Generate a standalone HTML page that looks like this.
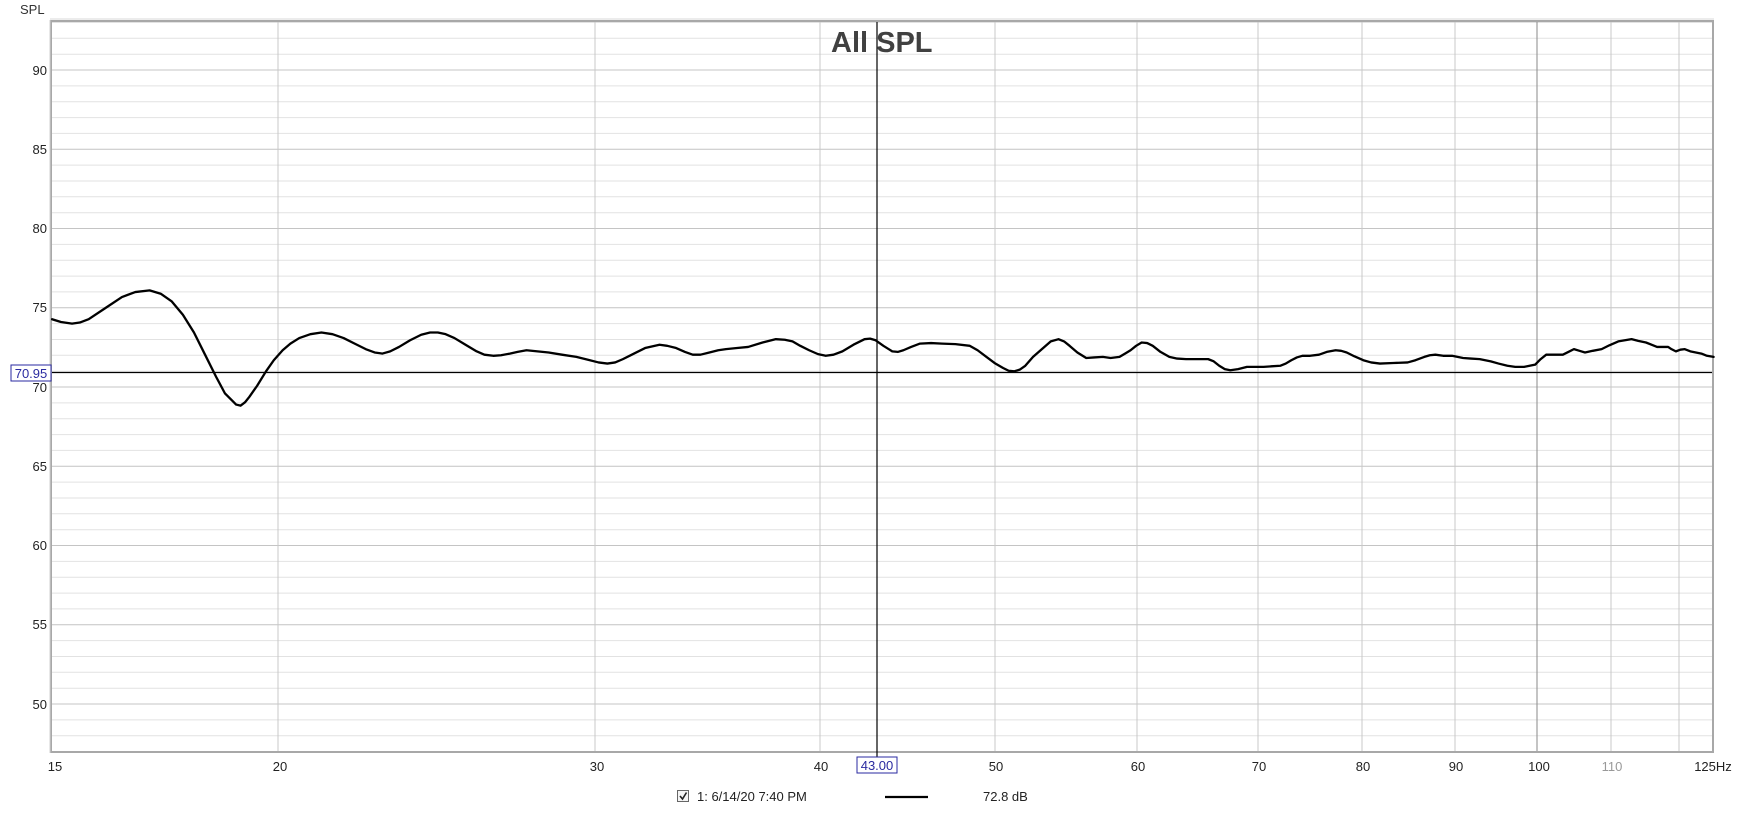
<!DOCTYPE html>
<html><head><meta charset="utf-8"><style>
html,body{margin:0;padding:0;background:#fff;}
svg{display:block;font-family:"Liberation Sans",sans-serif;}
</style></head><body>
<svg width="1738" height="813" viewBox="0 0 1738 813" xmlns="http://www.w3.org/2000/svg">
<rect width="1738" height="813" fill="#fff"/>
<text x="20" y="14" font-size="13" fill="#333">SPL</text>
<g id="grid">
<!-- minor horizontal lines every 1 dB -->
<g stroke="#e2e2e2" stroke-width="1">
<line x1="52" x2="1712" y1="22.5" y2="22.5"/><line x1="52" x2="1712" y1="38.3" y2="38.3"/><line x1="52" x2="1712" y1="54.2" y2="54.2"/>
<line x1="52" x2="1712" y1="85.9" y2="85.9"/><line x1="52" x2="1712" y1="101.7" y2="101.7"/><line x1="52" x2="1712" y1="117.6" y2="117.6"/><line x1="52" x2="1712" y1="133.4" y2="133.4"/>
<line x1="52" x2="1712" y1="165.1" y2="165.1"/><line x1="52" x2="1712" y1="181" y2="181"/><line x1="52" x2="1712" y1="196.8" y2="196.8"/><line x1="52" x2="1712" y1="212.7" y2="212.7"/>
<line x1="52" x2="1712" y1="244.4" y2="244.4"/><line x1="52" x2="1712" y1="260.2" y2="260.2"/><line x1="52" x2="1712" y1="276.1" y2="276.1"/><line x1="52" x2="1712" y1="291.9" y2="291.9"/>
<line x1="52" x2="1712" y1="323.6" y2="323.6"/><line x1="52" x2="1712" y1="339.5" y2="339.5"/><line x1="52" x2="1712" y1="355.3" y2="355.3"/><line x1="52" x2="1712" y1="371.2" y2="371.2"/>
<line x1="52" x2="1712" y1="402.9" y2="402.9"/><line x1="52" x2="1712" y1="418.7" y2="418.7"/><line x1="52" x2="1712" y1="434.6" y2="434.6"/><line x1="52" x2="1712" y1="450.4" y2="450.4"/>
<line x1="52" x2="1712" y1="482.1" y2="482.1"/><line x1="52" x2="1712" y1="498" y2="498"/><line x1="52" x2="1712" y1="513.8" y2="513.8"/><line x1="52" x2="1712" y1="529.7" y2="529.7"/>
<line x1="52" x2="1712" y1="561.4" y2="561.4"/><line x1="52" x2="1712" y1="577.2" y2="577.2"/><line x1="52" x2="1712" y1="593.1" y2="593.1"/><line x1="52" x2="1712" y1="608.9" y2="608.9"/>
<line x1="52" x2="1712" y1="640.6" y2="640.6"/><line x1="52" x2="1712" y1="656.5" y2="656.5"/><line x1="52" x2="1712" y1="672.3" y2="672.3"/><line x1="52" x2="1712" y1="688.2" y2="688.2"/>
<line x1="52" x2="1712" y1="719.9" y2="719.9"/><line x1="52" x2="1712" y1="735.7" y2="735.7"/>
</g>
<g stroke="#c4c4c4" stroke-width="1">
<line x1="52" x2="1712" y1="70" y2="70"/><line x1="52" x2="1712" y1="149.3" y2="149.3"/><line x1="52" x2="1712" y1="228.5" y2="228.5"/><line x1="52" x2="1712" y1="307.8" y2="307.8"/><line x1="52" x2="1712" y1="387" y2="387"/><line x1="52" x2="1712" y1="466.3" y2="466.3"/><line x1="52" x2="1712" y1="545.5" y2="545.5"/><line x1="52" x2="1712" y1="624.8" y2="624.8"/><line x1="52" x2="1712" y1="704" y2="704"/>
</g>
<g stroke="#c8c8c8" stroke-width="1">
<line x1="278" x2="278" y1="22" y2="752"/><line x1="595" x2="595" y1="22" y2="752"/><line x1="820" x2="820" y1="22" y2="752"/><line x1="995" x2="995" y1="22" y2="752"/><line x1="1137" x2="1137" y1="22" y2="752"/><line x1="1258" x2="1258" y1="22" y2="752"/><line x1="1362" x2="1362" y1="22" y2="752"/><line x1="1455" x2="1455" y1="22" y2="752"/><line x1="1611" x2="1611" y1="22" y2="752"/><line x1="1679" x2="1679" y1="22" y2="752"/>
</g>
<line x1="1537" x2="1537" y1="22" y2="752" stroke="#8a8a8a"/>
</g>
<!-- frame -->
<rect x="51" y="21" width="1662" height="731" fill="none" stroke="#a8a8a8" stroke-width="2"/>
<line x1="50" y1="20" x2="50" y2="753" stroke="#d0d0d0" stroke-width="1"/>
<line x1="50" y1="19" x2="1714" y2="19" stroke="#d8d8d8" stroke-width="1"/>
<!-- cursors -->
<line x1="52" x2="1712" y1="372.5" y2="372.5" stroke="#000" stroke-width="1.2"/>
<line x1="877" x2="877" y1="22" y2="757" stroke="#000" stroke-width="1.2"/>
<text x="831" y="52" font-size="29" font-weight="bold" fill="#404040">All SPL</text>
<!-- curve -->
<g transform="scale(1.1084)">
<polyline fill="none" stroke="#000" stroke-width="2.3" vector-effect="non-scaling-stroke" stroke-linejoin="round" stroke-linecap="round" points="47,288 55,290.5 65,292 72,291 80,288 95,278 110,268 122,263.5 135,262 145,265 155,272 165,284 175,300 185,320 195,340 203,355 210,362 213,365 217,366 221,363 225,358 232,348 240,335 247,325 255,316 262,310 270,305 280,301.5 290,300 300,301.5 310,305 320,310 330,315 338,318 345,319 352,317 360,313 370,307 380,302 388,300 395,300 402,301.5 410,305 420,311 430,317 437,320 445,321 452,320.5 460,319 467,317.5 475,316 485,317 495,318 507,320 520,322 530,324.5 540,327 548,328 555,327 562,324 570,320 582,314 595,311 602,312 610,314 618,317.5 625,320 632,320 640,318 648,316 655,315 665,314 675,313 688,309 700,306 708,306.5 715,308 722,312 730,316 738,319.5 745,321 752,320 760,317 770,311 780,306 785,305.5 790,307 797,312 805,317 810,317.5 815,316 822,313 830,310 840,309.5 850,310 862,310.5 875,312 882,316 890,322 898,328 905,332 910,334.5 915,335 920,333.5 925,330 932,322 940,315 948,308 955,306 960,308 965,312 972,318 980,323 987,322.5 995,322 1002,323 1010,322 1015,319 1020,316 1025,312 1030,309 1035,309.5 1040,312 1047,317.5 1055,322 1062,323.5 1070,324 1080,324 1090,324 1095,326 1100,330 1105,333 1110,334 1117,333 1125,331 1132,331 1140,331 1147,330.5 1155,330 1160,328 1165,325 1170,322.5 1175,321 1182,321 1190,320 1197,317.5 1205,316 1210,316.5 1215,318 1222,321.5 1230,325 1237,327 1245,328 1257,327.5 1270,327 1277,325 1285,322 1290,320.5 1295,320 1302,321 1310,321 1315,322 1320,323 1327,323.5 1335,324 1340,325 1345,326 1352,328 1360,330 1367,331 1375,331 1380,330 1385,329 1390,324 1395,320 1402,320 1410,320 1415,317.5 1420,315 1425,316.5 1430,318 1437,316.5 1445,315 1452,311.5 1460,308 1466,307 1472,306 1478,307.5 1485,309 1490,311 1495,313 1500,313 1505,313 1508,315 1512,317 1516,315.5 1520,315 1525,317 1530,318 1535,319 1540,321 1546,322"/>
</g>
<!-- y labels -->
<g font-size="13" fill="#222" text-anchor="end">
<text x="47" y="75">90</text><text x="47" y="154">85</text><text x="47" y="233">80</text><text x="47" y="312">75</text><text x="47" y="392">70</text><text x="47" y="471">65</text><text x="47" y="550">60</text><text x="47" y="629">55</text><text x="47" y="709">50</text>
</g>
<rect x="11" y="365" width="40" height="16" fill="#fff" stroke="#2a2aa0" stroke-width="1"/>
<text x="31" y="378" font-size="13" fill="#2a2aa0" text-anchor="middle">70.95</text>
<!-- x labels -->
<g font-size="13" fill="#222" text-anchor="middle">
<text x="55" y="771">15</text><text x="280" y="771">20</text><text x="597" y="771">30</text><text x="821" y="771">40</text><text x="996" y="771">50</text><text x="1138" y="771">60</text><text x="1259" y="771">70</text><text x="1363" y="771">80</text><text x="1456" y="771">90</text><text x="1539" y="771">100</text><text x="1612" y="771" fill="#999">110</text><text x="1713" y="771">125Hz</text>
</g>
<rect x="857" y="757" width="40" height="16" fill="#fff" stroke="#2a2aa0" stroke-width="1"/>
<text x="877" y="770" font-size="13" fill="#2a2aa0" text-anchor="middle">43.00</text>
<!-- legend -->
<rect x="677.5" y="790.5" width="11" height="11" fill="#f4f4f4" stroke="#666"/>
<path d="M680 796 l2.5 3 l4 -6.5" fill="none" stroke="#222" stroke-width="1.6"/>
<text x="697" y="801" font-size="13" fill="#222">1: 6/14/20 7:40 PM</text>
<line x1="885" y1="797" x2="928" y2="797" stroke="#000" stroke-width="2.3"/>
<text x="983" y="801" font-size="13" fill="#222">72.8 dB</text>
</svg>
</body></html>
